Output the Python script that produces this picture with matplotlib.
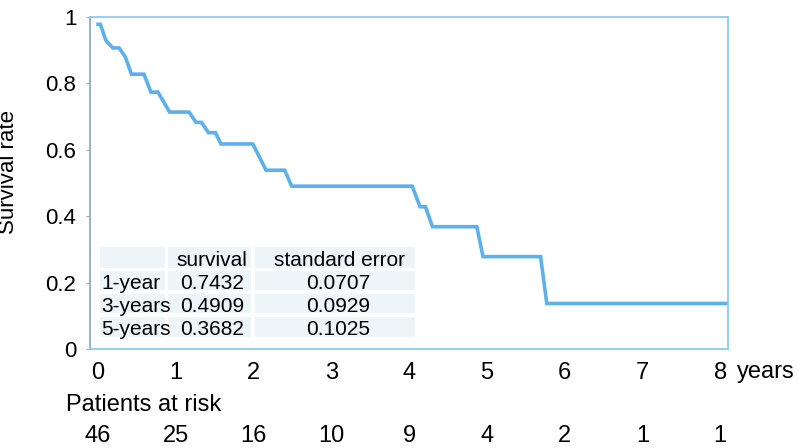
import numpy as np
import matplotlib
matplotlib.use("Agg")
import matplotlib.pyplot as plt
from matplotlib.patches import Rectangle
from matplotlib.transforms import blended_transform_factory

plt.rcParams['font.family'] = ['Liberation Sans', 'DejaVu Sans']

# Kaplan-Meier curve (years, survival)
times = [0.0, 0.03, 0.10, 0.19, 0.27, 0.35, 0.43, 0.59, 0.68, 0.77, 0.92, 1.17,
         1.26, 1.33, 1.42, 1.51, 1.58, 1.99, 2.16, 2.40, 2.49, 4.04, 4.14, 4.21,
         4.30, 4.87, 4.95, 5.69, 5.77, 8.08]
surv = [0.977, 0.977, 0.929, 0.906, 0.906, 0.879, 0.827, 0.827, 0.773, 0.773,
        0.713, 0.713, 0.682, 0.682, 0.651, 0.651, 0.617, 0.617, 0.538, 0.538,
        0.490, 0.490, 0.428, 0.428, 0.368, 0.368, 0.278, 0.278, 0.137, 0.137]

year_ticks = [0, 1, 2, 3, 4, 5, 6, 7, 8]
at_risk = [46, 25, 16, 10, 9, 4, 2, 1, 1]

y_ticks = [0, 0.2, 0.4, 0.6, 0.8, 1]
y_labels = ["0", "0.2", "0.4", "0.6", "0.8", "1"]

tbl_header = ["", "survival", "standard error"]
tbl_rows = ["1-year", "3-years", "5-years"]
tbl_surv = ["0.7432", "0.4909", "0.3682"]
tbl_se = ["0.0707", "0.0929", "0.1025"]

W, H = 798, 448
LINE = '#5eb0ea'
FRAME = '#8ccaf0'
FS_Y = 16
FS_X = 17
FS_T = 15


def fx(px):
    return px / W


def fy(py):
    return 1 - py / H


fig = plt.figure(figsize=(W / 100, H / 100), dpi=100)
ax = fig.add_axes([fx(89.5), fy(349), fx(728) - fx(89.5), fy(16.7) - fy(349)])

ax.plot(times, surv, color=LINE, lw=2.6, solid_joinstyle='miter')
ax.set_xlim(-0.11, 8.1)
ax.set_ylim(0, 1)

ax.set_xticks(year_ticks)
ax.set_xticklabels([str(t) for t in year_ticks])
ax.set_yticks(y_ticks)
ax.set_yticklabels(y_labels)
ax.tick_params(axis='x', length=0, pad=9.5, labelsize=FS_X)
ax.tick_params(axis='y', length=3, width=0.8, color='#9ab0b8', pad=6.5, labelsize=FS_Y)

for side in ['top', 'right', 'bottom']:
    ax.spines[side].set_color(FRAME)
    ax.spines[side].set_linewidth(1.3)
ax.spines['left'].set_color('#90aeb8')
ax.spines['left'].set_linewidth(1.3)

fig.text(fx(9), fy(172), "Survival rate", rotation=90, ha='center', va='center', fontsize=FS_Y)
fig.text(fx(737), fy(360.5), "years", ha='left', va='top', fontsize=FS_X)
fig.text(fx(66), fy(410.5), "Patients at risk", ha='left', va='baseline', fontsize=FS_X)

trans = blended_transform_factory(ax.transData, fig.transFigure)
for t, n in zip(year_ticks, at_risk):
    ax.text(t, fy(442), str(n), transform=trans, ha='center', va='baseline',
            fontsize=FS_X, clip_on=False)

# summary table drawn as shaded cells
cols = [(100, 165), (168, 251), (255, 415)]
rows = [(247, 268), (271, 290), (294, 313), (317, 337)]
for (x0, x1) in cols:
    for (y0, y1) in rows:
        fig.patches.append(Rectangle((fx(x0), fy(y1)), fx(x1) - fx(x0), fy(y0) - fy(y1),
                                     transform=fig.transFigure, facecolor='#edf5f9',
                                     edgecolor='none', zorder=3))

fig.text(fx(176.5), fy(266), tbl_header[1], ha='left', va='baseline', fontsize=FS_T, zorder=4)
fig.text(fx(340), fy(266), tbl_header[2], ha='center', va='baseline', fontsize=FS_T, zorder=4)
for base, lab, s, se in zip([288.5, 311.5, 335], tbl_rows, tbl_surv, tbl_se):
    fig.text(fx(101.5), fy(base), lab, ha='left', va='baseline', fontsize=FS_T, zorder=4)
    fig.text(fx(180), fy(base), s, ha='left', va='baseline', fontsize=FS_T, zorder=4)
    fig.text(fx(338), fy(base), se, ha='center', va='baseline', fontsize=FS_T, zorder=4)

fig.savefig("out.png", dpi=100)
